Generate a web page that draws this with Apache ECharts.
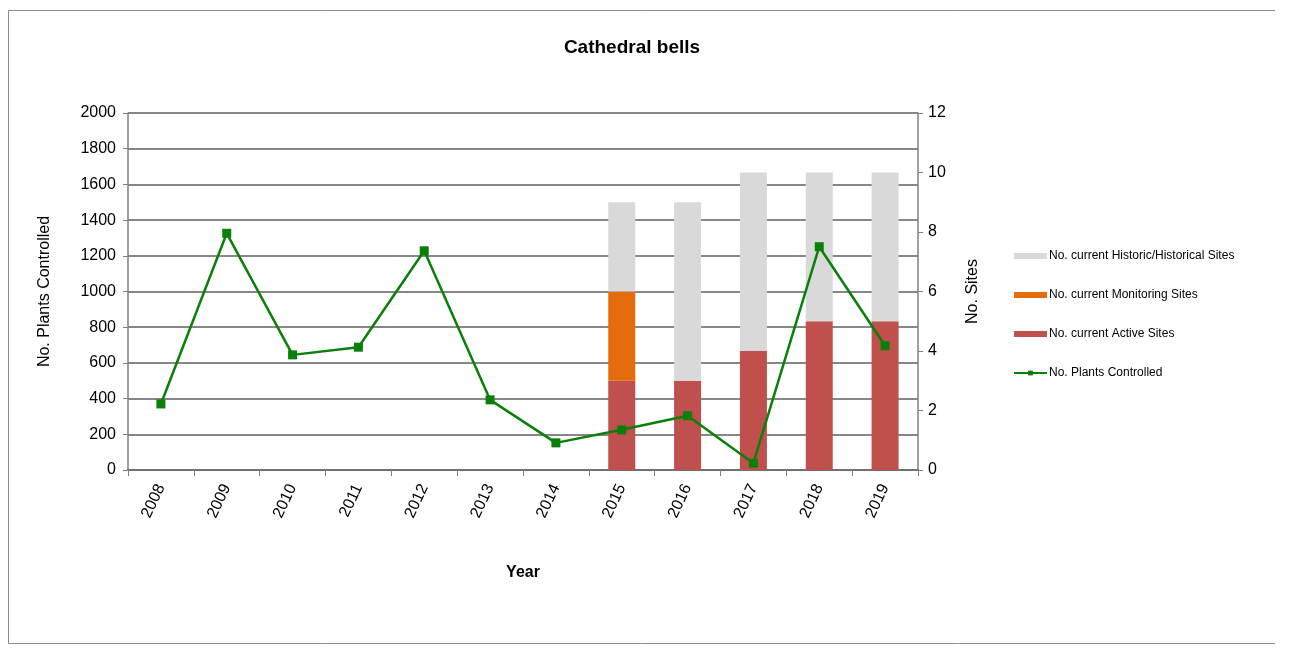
<!DOCTYPE html>
<html>
<head>
<meta charset="utf-8">
<script src="https://cdn.jsdelivr.net/npm/echarts@6/dist/echarts.min.js"></script>
<style>
  html, body { margin: 0; padding: 0; background: #ffffff; }
  #chart { width: 1306px; height: 655px; }
</style>
</head>
<body>
<div id="chart"></div>
<script>
// Years on the category axis
const years = ['2008', '2009', '2010', '2011', '2012', '2013', '2014', '2015', '2016', '2017', '2018', '2019'];

// Site counts (right axis), stacked
const activeSites     = [null, null, null, null, null, null, null, 3, 3, 4, 5, 5];
const monitoringSites = [null, null, null, null, null, null, null, 3, 0, 0, 0, 0];
const historicSites   = [null, null, null, null, null, null, null, 3, 6, 6, 5, 5];

// Plants controlled (left axis)
const plantsControlled = [370, 1326, 645, 688, 1228, 393, 152, 225, 304, 38, 1251, 696];

const seriesNames = {
  historic: 'No. current Historic/Historical Sites',
  monitoring: 'No. current Monitoring Sites',
  active: 'No. current Active Sites',
  plants: 'No. Plants Controlled'
};

const font = 'Liberation Sans, Arial, sans-serif';
const chart = echarts.init(document.getElementById('chart'), null, { renderer: 'canvas' });

const barWidth = 27;

chart.setOption({
  backgroundColor: '#ffffff',
  animation: false,
  title: {
    text: 'Cathedral bells',
    left: 627,
    top: 33,
    textAlign: 'center',
    textStyle: { fontFamily: font, fontSize: 19, fontWeight: 'bold', color: '#000' }
  },
  legend: {
    orient: 'vertical',
    left: 1008,
    top: 245,
    itemGap: 27,
    itemWidth: 33,
    itemHeight: 6,
    textStyle: { fontFamily: font, fontSize: 12, color: '#000', padding: [0, 0, 0, -3] },
    data: [
      { name: seriesNames.historic, icon: 'rect' },
      { name: seriesNames.monitoring, icon: 'rect' },
      { name: seriesNames.active, icon: 'rect' },
      { name: seriesNames.plants }
    ]
  },
  grid: { left: 128, right: 388, top: 113, bottom: 185 },
  xAxis: {
    type: 'category',
    data: years,
    name: 'Year',
    nameLocation: 'middle',
    nameGap: 95,
    nameTextStyle: { fontFamily: font, fontSize: 16, fontWeight: 'bold', color: '#000' },
    axisLine: { show: true, lineStyle: { color: '#707070', width: 2 } },
    axisTick: { show: true, alignWithLabel: false, length: 6, lineStyle: { color: '#808080' } },
    axisLabel: {
      rotate: 65,
      interval: 0,
      margin: 15,
      fontFamily: font,
      fontSize: 16,
      color: '#000'
    }
  },
  yAxis: [
    {
      type: 'value',
      min: 0,
      max: 2000,
      interval: 200,
      name: 'No. Plants Controlled',
      nameLocation: 'middle',
      nameGap: 75,
      nameTextStyle: { fontFamily: font, fontSize: 16, color: '#000' },
      axisLine: { show: true, lineStyle: { color: '#808080', width: 1.5 } },
      axisTick: { show: true, length: 5, lineStyle: { color: '#808080' } },
      axisLabel: {
        fontFamily: font, fontSize: 16, color: '#000', margin: 12,
        formatter: (v) => String(v)
      },
      splitLine: { show: true, lineStyle: { color: '#5f5f5f', width: 1.6 } }
    },
    {
      type: 'value',
      min: 0,
      max: 12,
      interval: 2,
      position: 'right',
      name: 'No. Sites',
      nameLocation: 'middle',
      nameGap: 47,
      nameRotate: 90,
      nameTextStyle: { fontFamily: font, fontSize: 16, color: '#000' },
      axisLine: { show: true, lineStyle: { color: '#808080', width: 1.5 } },
      axisTick: { show: true, length: 5, lineStyle: { color: '#808080' } },
      axisLabel: { fontFamily: font, fontSize: 16, color: '#000', margin: 10 },
      splitLine: { show: false }
    }
  ],
  series: [
    {
      name: seriesNames.active,
      type: 'bar',
      yAxisIndex: 1,
      stack: 'sites',
      barWidth: barWidth,
      itemStyle: { color: '#C0504D' },
      data: activeSites
    },
    {
      name: seriesNames.monitoring,
      type: 'bar',
      yAxisIndex: 1,
      stack: 'sites',
      barWidth: barWidth,
      itemStyle: { color: '#E46C0A' },
      data: monitoringSites
    },
    {
      name: seriesNames.historic,
      type: 'bar',
      yAxisIndex: 1,
      stack: 'sites',
      barWidth: barWidth,
      itemStyle: { color: '#D9D9D9' },
      data: historicSites
    },
    {
      name: seriesNames.plants,
      type: 'line',
      yAxisIndex: 0,
      symbol: 'rect',
      symbolSize: 9,
      z: 5,
      lineStyle: { color: '#0A7F0A', width: 2.5 },
      itemStyle: { color: '#0A7F0A' },
      data: plantsControlled
    }
  ],
  graphic: [
    {
      type: 'polyline',
      shape: { points: [[1275, 10.5], [8.5, 10.5], [8.5, 643.5], [1275, 643.5]] },
      style: { stroke: '#8c8c8c', lineWidth: 1, fill: null }
    }
  ]
});
</script>
</body>
</html>
